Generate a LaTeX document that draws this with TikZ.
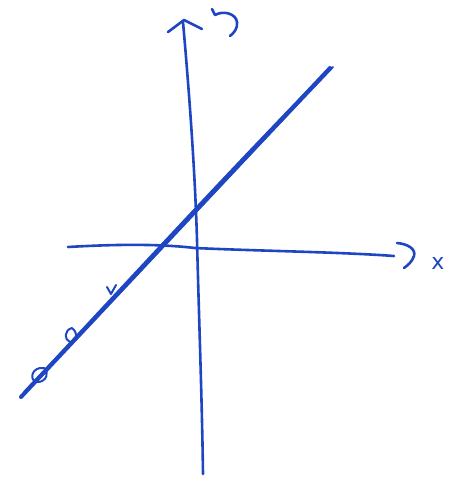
\documentclass[tikz,border=0pt]{standalone}
\usepackage{fontspec}
\setsansfont{DejaVu Sans}
\definecolor{pen}{RGB}{30,70,195}
\tikzset{
  ink/.style={draw=pen,line width=2.6pt,line cap=round,line join=round},
  thinink/.style={draw=pen,line width=2pt,line cap=round,line join=round},
  lbl/.style={text=pen,font=\sffamily\fontsize{22}{22}\selectfont,inner sep=0pt}
}
\begin{document}
\begin{tikzpicture}[x=1pt,y=-1pt]
\useasboundingbox (0,0) rectangle (452,480);
% vertical axis
\draw[ink] (183,22) .. controls (189,90) and (195,170) .. (197,240)
  .. controls (199,320) and (202,400) .. (203,474);
% arrowhead on vertical axis
\draw[ink] (168,32) -- (184,20) -- (202,29);
% hook near top
\draw[ink] (212,9) -- (215,15) .. controls (224,10) and (236,14) .. (237,22)
  .. controls (238,28) and (234,33) .. (230,36);
% horizontal axis
\draw[ink] (68,247) .. controls (120,244) and (160,244) .. (195,248)
  .. controls (260,251) and (340,252) .. (394,256);
% right hook
\draw[ink] (397,243) .. controls (408,244) and (416,249) .. (414,256)
  .. controls (412,262) and (408,265) .. (404,268);
% x label
\node[lbl] (xl) at (438,263) {x};
% main slanted line (several strokes)
\draw[ink,line width=4pt] (21,397) -- (330,68);
\draw[thinink] (24,392) .. controls (120,290) and (220,180) .. (326,72);
\draw[thinink] (30,388) .. controls (130,282) and (230,175) .. (333,67);
% marks on the line
\draw[thinink] (107,287) -- (111,294) -- (116,285);
\draw[thinink] (72,328) .. controls (64,330) and (64,340) .. (70,342)
  .. controls (76,343) and (79,333) .. (72,328);
\draw[thinink] (40,368) .. controls (30,370) and (30,382) .. (38,382)
  .. controls (46,382) and (50,372) .. (44,368) -- (40,368);
\end{tikzpicture}
\end{document}
